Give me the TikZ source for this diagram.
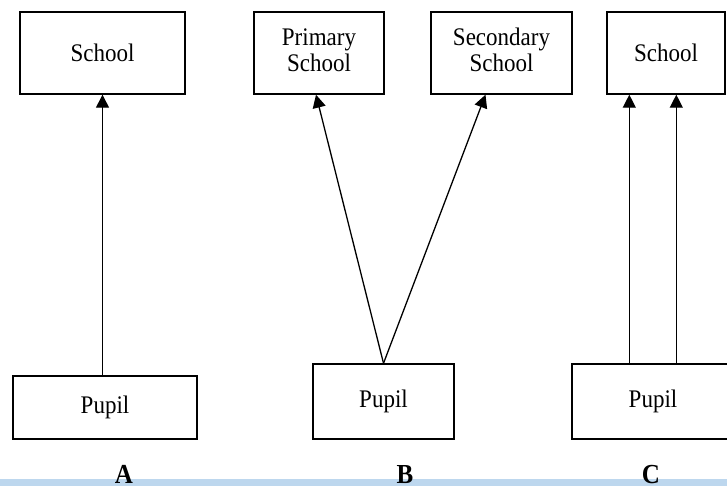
\documentclass[tikz,border=0pt]{standalone}
\usepackage{fontspec}
\setmainfont{Liberation Serif}
\usepackage{graphicx}
\usetikzlibrary{arrows.meta,calc}
\definecolor{band}{RGB}{189,215,238}
% slightly tall lettering
\newcommand{\tallt}[1]{\scalebox{1}[1.1]{#1}}
\begin{document}
\begin{tikzpicture}[x=1pt,y=-1pt,
  box/.style={draw, line width=1.4pt, inner sep=0pt, align=center,
              font=\fontsize{23}{24}\selectfont},
  link/.style={line width=1.3pt, -{Triangle[length=13pt,width=13pt]}},
  lbl/.style={anchor=base, inner sep=0pt, font=\fontsize{25}{30}\selectfont\bfseries}]
\clip (0,0) rectangle (727,486);
\fill[white] (0,0) rectangle (727,486);
\fill[band] (0,479) rectangle (727,486);

% A: one pupil, one school
\node[box, minimum width=165pt, minimum height=82pt] (sa) at (102.5,53) {\tallt{School}};
\node[box, minimum width=184pt, minimum height=63pt] (pa) at (105,407.5) {\tallt{Pupil}};
\draw[link] (sa.south |- pa.north) -- (sa.south);

% B: one pupil, two schools
\node[box, minimum width=130pt, minimum height=82pt] (ps) at (319,53)
  {\tallt{\begin{tabular}{@{}c@{}}Primary\\School\end{tabular}}};
\node[box, minimum width=141pt, minimum height=82pt] (ss) at (501.5,53)
  {\tallt{\begin{tabular}{@{}c@{}}Secondary\\School\end{tabular}}};
\node[box, minimum width=141pt, minimum height=75pt] (pb) at (383.5,401.5) {\tallt{Pupil}};
\draw[link] (pb.north) -- ($(ps.south)+(-3,0)$);
\draw[link] (pb.north) -- ($(ss.south)+(-16,0)$);

% C: one pupil, one school, two links
\node[box, minimum width=118pt, minimum height=82pt] (sc) at (666,53) {\tallt{School}};
\node[box, minimum width=162pt, minimum height=75pt] (pc) at (653,401.5) {\tallt{Pupil}};
\coordinate (c1) at ($(sc.south west)+(23,0)$);
\coordinate (c2) at ($(sc.south west)+(70,0)$);
\draw[link] (c1 |- pc.north) -- (c1);
\draw[link] (c2 |- pc.north) -- (c2);

% case labels
\node[lbl] (la) at (124,483) {\tallt{A}};
\node[lbl] (lb) at (405,483) {\tallt{B}};
\node[lbl] (lc) at (651,483) {\tallt{C}};
\end{tikzpicture}
\end{document}
